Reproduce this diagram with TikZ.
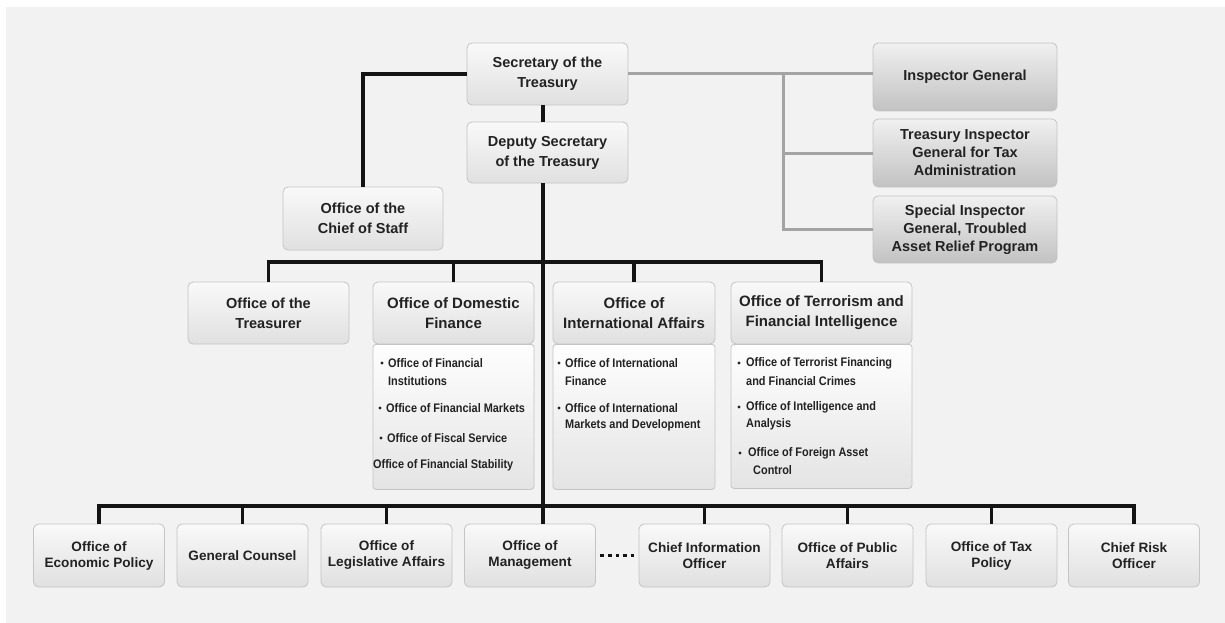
\documentclass[tikz,border=0pt]{standalone}
\usepackage{fontspec}
\setmainfont{Liberation Sans}
\newfontfamily\subf{Liberation Sans}[FakeStretch=0.88]
\usetikzlibrary{shadings}
\definecolor{bg}{HTML}{F2F2F2}
\definecolor{btop}{HTML}{F9F9F9}
\definecolor{bbot}{HTML}{E0E0E0}
\definecolor{bord}{HTML}{C4C4C4}
\definecolor{igtop}{HTML}{F0F0F0}
\definecolor{igbot}{HTML}{C2C2C2}
\definecolor{bodytop}{HTML}{FEFEFE}
\definecolor{bodybot}{HTML}{E4E4E4}
\definecolor{txt}{HTML}{222222}
\definecolor{lnk}{HTML}{141414}
\definecolor{glnk}{HTML}{A4A4A4}
\begin{document}
\begin{tikzpicture}[x=1pt,y=-1pt,
  box/.style={draw=bord, line width=0.8pt, rounded corners=5pt, top color=btop, bottom color=bbot,
    text=txt, align=center, inner sep=0pt, font=\fontsize{14.5}{20}\selectfont\bfseries},
  igbox/.style={box, top color=igtop, bottom color=igbot, minimum width=184pt, font=\fontsize{14.5}{18}\selectfont\bfseries},
  midbox/.style={box, minimum height=62pt, font=\fontsize{15}{20}\selectfont\bfseries},
  bodybox/.style={draw=bord, line width=0.8pt, rounded corners=3pt, top color=bodytop, bottom color=bodybot, inner sep=0pt, anchor=north},
  botbox/.style={box, minimum width=131pt, minimum height=63pt, font=\fontsize{13.6}{16}\selectfont\bfseries},
  subt/.style={font=\subf\fontsize{12.4}{14}\selectfont\bfseries, text=txt, inner sep=0pt, anchor=west},
  org/.style={draw=lnk, line width=3.4pt, line join=miter},
  gline/.style={draw=glnk, line width=3pt, line join=miter},
  dotline/.style={draw=lnk, line width=3.5pt, dash pattern=on 3.6pt off 4pt},
  bul/.style={fill=txt}
]
\useasboundingbox (0,0) rectangle (1225,623);
\fill[bg] (6,7) rectangle (1225,623);

\coordinate (spine) at (543,0);
\coordinate (gv) at (783,0);
\coordinate (bus1) at (543,262);
\coordinate (bus2) at (543,506);

% ---------- top boxes ----------
\node[box, minimum width=161pt, minimum height=62pt] (sec) at (547.5,74) {Secretary of the\\Treasury};
\node[box, minimum width=161pt, minimum height=61pt] (dep) at (547.5,152.5) {Deputy Secretary\\of the Treasury};
\node[box, minimum width=160pt, minimum height=63pt] (cos) at (363,218.5) {Office of the\\Chief of Staff};

\node[igbox, minimum height=68pt] (ig) at (965,77) {Inspector General};
\node[igbox, minimum height=68pt] (tigta) at (965,153) {Treasury Inspector\\General for Tax\\Administration};
\node[igbox, minimum height=67pt] (sigtarp) at (965,229.5) {Special Inspector\\General, Troubled\\Asset Relief Program};

% ---------- middle row ----------
\node[box, minimum width=161pt, minimum height=62pt] (treas) at (268.5,313) {Office of the\\Treasurer};

\node[bodybox, minimum width=161pt, minimum height=145pt] (domb) at (453.5,344) {};
\node[midbox, minimum width=161pt] (dom) at (453.5,313) {Office of Domestic\\Finance};

\node[bodybox, minimum width=162pt, minimum height=145pt] (intlb) at (634,344) {};
\node[midbox, minimum width=162pt] (intl) at (634,313) {Office of\\International Affairs};

\node[bodybox, minimum width=181pt, minimum height=144pt] (terrb) at (821.5,344) {};
\node[midbox, minimum width=181pt] (terr) at (821.5,313) {Office of Terrorism and\\Financial Intelligence};

% sub-items: domestic finance
\fill[bul] (382,363) circle (1.6pt);
\node[subt] (d1a) at (388,363) {Office of Financial};
\node[subt] (d1b) at (388,381) {Institutions};
\fill[bul] (380,408) circle (1.6pt);
\node[subt] (d2) at (386,408) {Office of Financial Markets};
\fill[bul] (381,438) circle (1.6pt);
\node[subt] (d3) at (387,438) {Office of Fiscal Service};
\node[subt] (d4) at (373,465) {Office of Financial Stability};

% sub-items: international affairs
\fill[bul] (559,363) circle (1.6pt);
\node[subt] (i1a) at (565,363) {Office of International};
\node[subt] (i1b) at (565,381) {Finance};
\fill[bul] (559,408) circle (1.6pt);
\node[subt] (i2a) at (565,408) {Office of International};
\node[subt] (i2b) at (565,425) {Markets and Development};

% sub-items: terrorism
\fill[bul] (739,363) circle (1.6pt);
\node[subt] (t1a) at (746,363) {Office of Terrorist Financing};
\node[subt] (t1b) at (746,381) {and Financial Crimes};
\fill[bul] (739,407) circle (1.6pt);
\node[subt] (t2a) at (746,407) {Office of Intelligence and};
\node[subt] (t2b) at (746,424) {Analysis};
\fill[bul] (740,453) circle (1.6pt);
\node[subt] (t3a) at (748,453) {Office of Foreign Asset};
\node[subt] (t3b) at (753,470) {Control};

% ---------- bottom row ----------
\node[botbox] (eco) at (99,555.5) {Office of\\Economic Policy};
\node[botbox] (gc) at (242.5,555.5) {General Counsel};
\node[botbox] (leg) at (386.5,555.5) {Office of\\Legislative Affairs};
\node[botbox] (mgmt) at (530,555.5) {Office of\\Management};
\node[botbox] (cio) at (704.5,555.5) {Chief Information\\Officer};
\node[botbox] (pa) at (847.5,555.5) {Office of Public\\Affairs};
\node[botbox] (tax) at (991.5,555.5) {Office of Tax\\Policy};
\node[botbox] (risk) at (1134,555.5) {Chief Risk\\Officer};

% ---------- connectors ----------
\draw[org] (sec.west) -| (cos.north);
\draw[org] (sec.south -| spine) -- (dep.north -| spine);
\draw[org] (dep.south -| spine) -- (mgmt.north -| spine);

\draw[org] (treas.north) -- (treas.north |- bus1) -- (terr.north |- bus1) -- (terr.north);
\draw[org] (dom.north) -- (dom.north |- bus1);
\draw[org] (intl.north) -- (intl.north |- bus1);

\draw[org] (eco.north) -- (eco.north |- bus2) -- (risk.north |- bus2) -- (risk.north);
\draw[org] (gc.north) -- (gc.north |- bus2);
\draw[org] (leg.north) -- (leg.north |- bus2);
\draw[org] (cio.north) -- (cio.north |- bus2);
\draw[org] (pa.north) -- (pa.north |- bus2);
\draw[org] (tax.north) -- (tax.north |- bus2);

\draw[gline] (sec.east) -- (sec.east -| ig.west);
\draw[gline] (sec.east -| gv) |- (sigtarp.west);
\draw[gline] (gv |- tigta.west) -- (tigta.west);

\draw[dotline] ([xshift=4.5pt]mgmt.east) -- ([xshift=-2pt]cio.west);
\end{tikzpicture}
\end{document}
